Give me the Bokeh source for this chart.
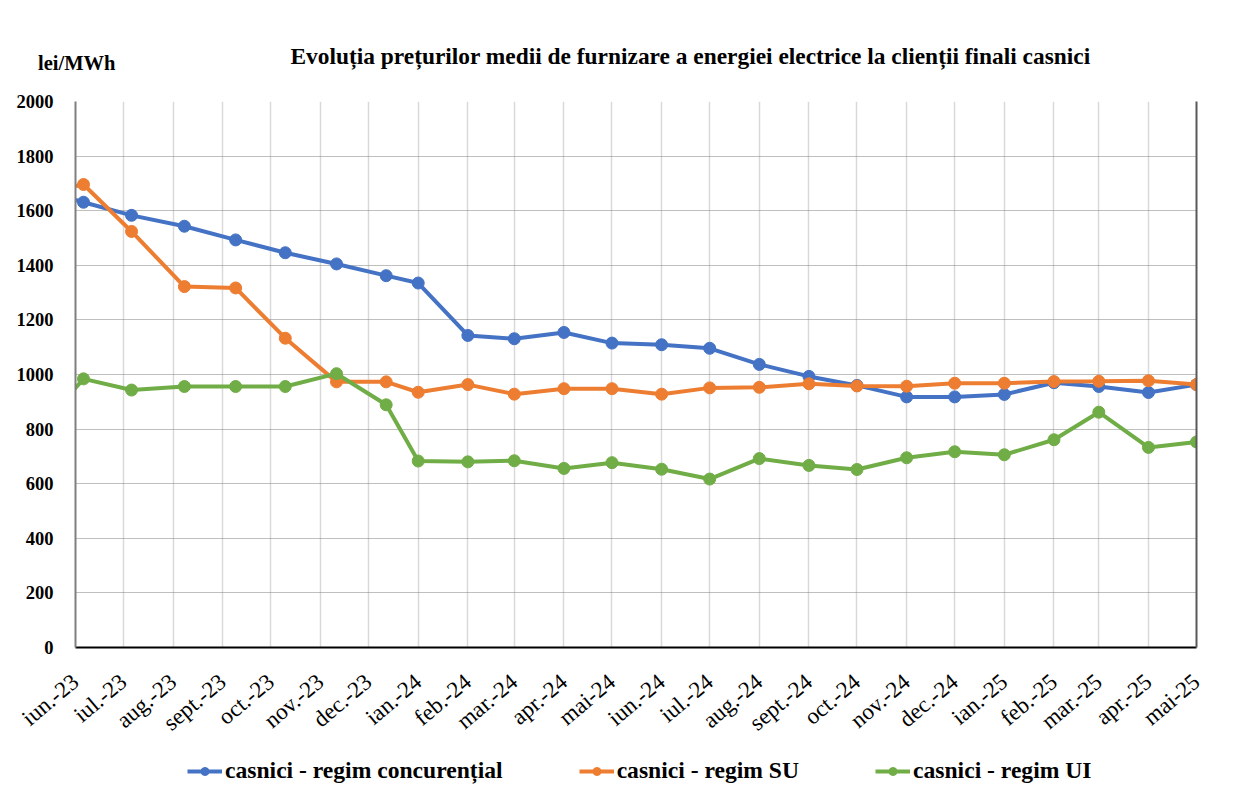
import pandas as pd
from bokeh.plotting import figure
from bokeh.layouts import column
from bokeh.models import (FixedTicker, Legend, LegendItem, LinearAxis, Label,
                          Range1d, ColumnDataSource)
from bokeh.embed import file_html
from bokeh.resources import INLINE

# ---------------- data ----------------
month_labels = ["iun.-23", "iul.-23", "aug.-23", "sept.-23", "oct.-23", "nov.-23",
                "dec.-23", "ian.-24", "feb.-24", "mar.-24", "apr.-24", "mai-24",
                "iun.-24", "iul.-24", "aug.-24", "sept.-24", "oct.-24", "nov.-24",
                "dec.-24", "ian.-25", "feb.-25", "mar.-25", "apr.-25", "mai-25"]

point_dates = ["2023-05-06", "2023-06-06", "2023-07-06", "2023-08-08", "2023-09-09",
               "2023-10-10", "2023-11-11", "2023-12-12", "2024-01-01", "2024-02-01",
               "2024-03-01", "2024-04-01", "2024-05-01", "2024-06-01", "2024-07-01",
               "2024-08-01", "2024-09-01", "2024-10-01", "2024-11-01", "2024-12-01",
               "2025-01-01", "2025-02-01", "2025-03-01", "2025-04-01", "2025-05-01"]

concurential = [1680, 1631, 1583, 1543, 1493, 1446, 1405, 1362, 1335, 1143, 1131, 1154,
                1115, 1109, 1096, 1037, 993, 960, 918, 918, 927, 970, 956, 934, 963]
regim_su = [1658, 1696, 1524, 1322, 1317, 1133, 973, 973, 935, 963, 928, 948,
            948, 928, 951, 953, 966, 958, 957, 968, 968, 974, 975, 977, 963]
regim_ui = [779, 984, 943, 956, 956, 956, 1003, 889, 683, 680, 684, 656,
            677, 653, 617, 692, 667, 652, 695, 717, 706, 761, 862, 733, 753]

y_ticks = [0, 200, 400, 600, 800, 1000, 1200, 1400, 1600, 1800, 2000]

series_names = ["casnici - regim concurențial", "casnici - regim SU", "casnici - regim UI"]
colors = ["#4472C4", "#ED7D31", "#70AD47"]

chart_title = "Evoluția prețurilor medii de furnizare a energiei electrice la clienții finali casnici"
unit_label = "lei/MWh"

# ---------------- derived ----------------
origin = pd.Timestamp("2023-06-01")
x_days = [(pd.Timestamp(d) - origin).days for d in point_dates]
tick_dates = pd.date_range("2023-06-01", periods=len(month_labels), freq="MS")
tick_days = [int((d - origin).days) for d in tick_dates]
series_values = [concurential, regim_su, regim_ui]

FONT = "Liberation Serif"
W = 1225
TOP_H = 91

# ---------------- header (title + unit) ----------------
p_top = figure(width=W, height=TOP_H, output_backend="svg", toolbar_location=None,
               x_axis_location=None, y_axis_location="left",
               x_range=Range1d(0, 1), y_range=Range1d(0, TOP_H),
               min_border_left=0, min_border_right=0, min_border_top=0,
               min_border_bottom=0, background_fill_color="white",
               border_fill_color="white")
p_top.outline_line_color = None
p_top.grid.visible = False
ua = p_top.yaxis[0]
ua.ticker = FixedTicker(ticks=[29])
ua.major_label_overrides = {29: unit_label}
ua.major_label_text_font = FONT
ua.major_label_text_font_style = "bold"
ua.major_label_text_font_size = "20.5px"
ua.major_label_text_color = "black"
ua.major_label_standoff = -46
ua.axis_line_color = None
ua.major_tick_line_color = None
ua.minor_tick_line_color = None

p_top.add_layout(Label(x=215, y=36, x_units="screen", y_units="screen",
                       text=chart_title, text_font=FONT, text_font_style="bold",
                       text_font_size="23.4px", text_align="left",
                       text_baseline="middle", text_color="black"))

# ---------------- main chart ----------------
p = figure(width=W, height=656, output_backend="svg", toolbar_location=None,
           x_range=Range1d(tick_days[0], tick_days[-1]), y_range=Range1d(0, 2000),
           min_border_left=75, min_border_right=29, min_border_top=10,
           min_border_bottom=100, background_fill_color="white",
           border_fill_color="white")
p.outline_line_color = None

xa = p.xaxis[0]
xa.ticker = FixedTicker(ticks=tick_days)
xa.major_label_overrides = {t: l for t, l in zip(tick_days, month_labels)}
xa.major_label_orientation = 0.70
xa.major_label_text_font = FONT
xa.major_label_text_font_size = "23px"
xa.major_label_text_color = "black"
xa.major_label_standoff = 25
xa.major_tick_line_color = None
xa.minor_tick_line_color = None
xa.axis_line_color = "black"
xa.axis_line_width = 2

ya = p.yaxis[0]
ya.ticker = FixedTicker(ticks=y_ticks)
ya.major_label_text_font = FONT
ya.major_label_text_font_style = "bold"
ya.major_label_text_font_size = "18.5px"
ya.major_label_text_color = "black"
ya.major_label_standoff = 16
ya.major_tick_line_color = None
ya.minor_tick_line_color = None
ya.axis_line_color = "#7f7f7f"
ya.axis_line_width = 2

right_axis = LinearAxis(ticker=FixedTicker(ticks=[]), major_tick_line_color=None,
                        minor_tick_line_color=None, axis_line_color="#595959",
                        axis_line_width=2)
p.add_layout(right_axis, "right")

p.xgrid.ticker = FixedTicker(ticks=tick_days)
p.xgrid.grid_line_color = "#d9d9d9"
p.xgrid.grid_line_width = 1.5
p.ygrid.ticker = FixedTicker(ticks=y_ticks)
p.ygrid.grid_line_color = "#7f7f7f"
p.ygrid.grid_line_dash = "1 1"
p.ygrid.grid_line_width = 1

for vals, col in zip(series_values, colors):
    src = ColumnDataSource(dict(x=x_days, y=vals))
    p.line("x", "y", source=src, line_color=col, line_width=4)
    p.scatter("x", "y", source=src, size=12, fill_color=col, line_color=col)

# ---------------- legend strip ----------------
p_leg = figure(width=W, height=56, output_backend="svg", toolbar_location=None,
               x_axis_location=None, y_axis_location=None,
               x_range=Range1d(-2000, -1000), y_range=Range1d(0, 2000),
               min_border_left=0, min_border_right=0, min_border_top=0,
               min_border_bottom=0, background_fill_color="white",
               border_fill_color="white")
p_leg.outline_line_color = None
p_leg.grid.visible = False
items = []
for name, vals, col in zip(series_names, series_values, colors):
    src = ColumnDataSource(dict(x=x_days, y=vals))
    r1 = p_leg.line("x", "y", source=src, line_color=col, line_width=4)
    r2 = p_leg.scatter("x", "y", source=src, size=9, fill_color=col, line_color=col)
    items.append(LegendItem(label=name, renderers=[r1, r2]))

legend = Legend(items=items, orientation="horizontal", location=(112, 19),
                spacing=76, glyph_width=35, glyph_height=20, label_standoff=3,
                label_text_font=FONT, label_text_font_style="bold",
                label_text_font_size="23.6px", label_text_color="black",
                border_line_color=None, background_fill_alpha=0, padding=0,
                margin=0)
p_leg.add_layout(legend, "center")

layout = column(p_top, p, p_leg, spacing=0)

open("out.html", "w").write(file_html(layout, INLINE))
